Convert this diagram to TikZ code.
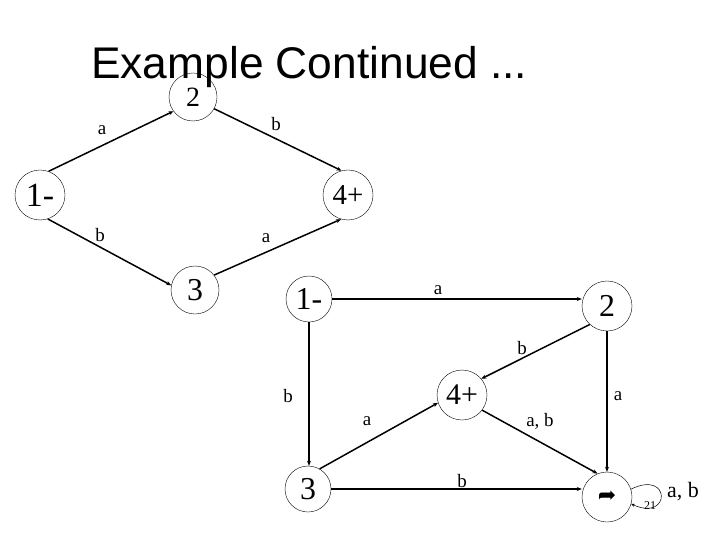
\documentclass[tikz,border=0pt]{standalone}
\usepackage{fontspec}
\setmainfont{Liberation Serif}
\newfontfamily\titlefont{Liberation Sans}
\newfontfamily\symfont{DejaVu Sans}
\usetikzlibrary{arrows.meta}
\begin{document}
\begin{tikzpicture}[x=1bp,y=-1bp,
  state/.style={circle,draw=black,line width=0.4pt,minimum size=48bp,inner sep=0pt},
  edge/.style={line width=1.5pt,-{Stealth[length=5bp,width=4bp]}},
  lab/.style={inner sep=0pt,font=\fontsize{19}{21}\selectfont}]
\useasboundingbox (0,0) rectangle (720,540);
\fill[white] (0,0) rectangle (720,540);
\node[anchor=base west,inner sep=0pt,font=\titlefont\fontsize{44.5}{50}\selectfont] (title) at (91,79) {Example Continued ...};
% top graph
\begin{scope}[every node/.append style={font=\fontsize{32}{34}\selectfont}]
\node[state,font=\fontsize{28}{30}\selectfont] (t2) at (193,97) {2};
\node[state,minimum size=50bp,font=\fontsize{34}{36}\selectfont] (t1) at (40,195) {1-};
\node[state,minimum size=50bp,font=\fontsize{29}{32}\selectfont] (t4) at (348,195) {4+};
\node[state] (t3) at (195,290) {3};
\end{scope}
\draw[edge] (t1.70) -- (t2.216);
\draw[edge] (t2.-29) -- (t4.105);
\draw[edge] (t1.-72) -- (t3.169);
\draw[edge] (t3.38) -- (t4.-106);
\node[lab] (la1) at (102,130) {a};
\node[lab] (lb1) at (276,124) {b};
\node[lab] (lb2) at (100,235) {b};
\node[lab] (la2) at (266,238) {a};
% bottom graph
\begin{scope}[every node/.append style={font=\fontsize{32}{34}\selectfont}]
\node[state,minimum size=46bp] (b1) at (309,299) {1-};
\node[state,minimum size=50bp] (b2) at (607,306) {2};
\node[state,minimum size=50bp,font=\fontsize{30}{32}\selectfont] (b4) at (462,395) {4+};
\node[state,minimum size=46bp] (b3) at (308,489) {3};
\node[state,minimum size=50bp] (b5) at (607,497) {\symfont\fontsize{22}{24}\selectfont ➦};
\end{scope}
\draw[edge] (b1.east) -- (b1.east -| b2.west);
\draw[edge] (b1.south) -- (b1.south |- b3.north);
\draw[edge] (b3.east) -- (b3.east -| b5.west);
\draw[edge] (b2.south) -- (b2.south |- b5.north);
\draw[edge] (b2.227) -- (b4.40);
\draw[edge] (b3.60) -- (b4.198);
\draw[edge] (b4.-37) -- (b5.112);
\draw[black,line width=0.5pt,-{Stealth[length=3.5bp,width=3bp]}] (b5.18) .. controls +(40,-20) and +(40,18) .. (b5.-16);
\node[lab] (la3) at (438,290) {a};
\node[lab] (lb3) at (522,348) {b};
\node[lab] (lb4) at (288,396) {b};
\node[lab] (la4) at (367,421) {a};
\node[lab] (lab1) at (540,421) {a, b};
\node[lab] (la5) at (618,396) {a};
\node[lab] (lb5) at (462,481) {b};
\node[lab,font=\fontsize{22}{24}\selectfont] (lab2) at (683,492) {a, b};
\node[inner sep=0pt,font=\fontsize{12}{13}\selectfont] (n21) at (650,506) {21};
\end{tikzpicture}
\end{document}
